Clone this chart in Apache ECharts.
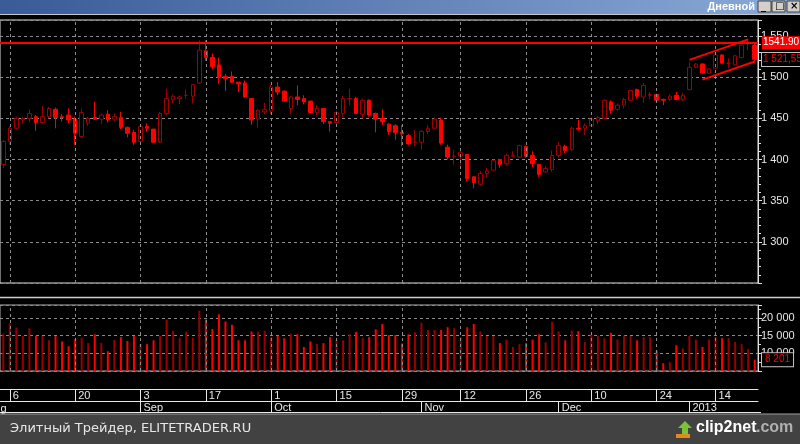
<!DOCTYPE html>
<html><head><meta charset="utf-8">
<script src="https://cdn.jsdelivr.net/npm/echarts@6/dist/echarts.min.js"></script>
<style>html,body{margin:0;padding:0;background:#000}#c{width:800px;height:444px}</style>
</head><body><div id="c"></div>
<script>
const opens  = [1394,1422,1438,1448,1450,1452,1445,1452,1461,1452,1454,1449,1428,1444,1451,1449,1455,1449,1451,1439,1433,1422,1440,1437,1421,1456,1473,1474,1478,1477,1493,1532,1524,1515,1501,1501,1494,1493,1474,1449,1458,1459,1488,1483,1462,1476,1474,1471,1457,1462,1446,1445,1456,1474,1474,1455,1472,1456,1450,1443,1441,1433,1429,1421,1421,1434,1438,1448,1415,1404,1404,1406,1379,1370,1383,1387,1400,1395,1404,1403,1416,1405,1394,1385,1388,1405,1416,1412,1438,1438,1441,1447,1450,1470,1461,1466,1472,1485,1476,1478,1479,1473,1473,1478,1473,1485,1512,1516,1505,1511,1527,1517,1515,1524,1541,1539];
const closes = [1422,1438,1450,1450,1456,1445,1452,1462,1451,1451,1448,1432,1457,1450,1449,1454,1448,1452,1439,1432,1421,1440,1438,1421,1456,1474,1477,1476,1478,1491,1533,1524,1513,1500,1498,1494,1492,1476,1448,1460,1461,1488,1482,1471,1476,1473,1470,1457,1462,1446,1444,1457,1474,1474,1456,1472,1454,1449,1446,1434,1433,1431,1419,1421,1434,1438,1449,1420,1403,1404,1409,1377,1372,1383,1386,1399,1394,1405,1405,1417,1404,1395,1382,1389,1405,1417,1411,1438,1437,1441,1449,1451,1472,1460,1466,1473,1484,1477,1490,1479,1472,1472,1477,1473,1478,1512,1516,1505,1510,1527,1517,1517,1526,1539,1541,1521.55];
const highs  = [1424,1440,1452,1452,1461,1454,1465,1464,1463,1455,1462,1452,1462,1452,1470,1456,1460,1456,1458,1440,1436,1442,1444,1437,1458,1486,1479,1478,1485,1492,1545,1545,1529,1524,1504,1507,1494,1496,1474,1461,1469,1491,1494,1484,1477,1490,1478,1471,1466,1462,1446,1459,1477,1486,1476,1474,1473,1457,1461,1444,1443,1442,1431,1436,1436,1442,1451,1451,1418,1411,1411,1406,1380,1386,1390,1400,1401,1407,1410,1418,1417,1410,1395,1392,1411,1421,1418,1440,1448,1444,1451,1453,1473,1472,1468,1475,1485,1486,1493,1482,1480,1474,1479,1482,1481,1518,1517,1517,1511,1528,1528,1523,1527,1540,1545,1541];
const lows   = [1390,1418,1436,1444,1446,1435,1443,1450,1438,1446,1444,1418,1426,1441,1448,1443,1445,1446,1437,1427,1418,1420,1434,1420,1420,1454,1468,1467,1474,1468,1492,1520,1510,1492,1483,1493,1482,1475,1442,1439,1455,1455,1478,1470,1455,1466,1467,1456,1454,1443,1434,1443,1452,1466,1455,1450,1452,1433,1442,1430,1424,1416,1418,1416,1412,1431,1437,1418,1400,1394,1393,1373,1365,1368,1378,1386,1390,1392,1403,1402,1402,1391,1379,1384,1385,1403,1408,1410,1435,1430,1440,1443,1449,1456,1459,1462,1471,1474,1469,1473,1471,1466,1471,1472,1471,1484,1511,1504,1504,1510,1516,1511,1514,1523,1533,1518];
const volumes = [15600,18500,17300,14900,17100,15000,14900,13700,14900,13400,12000,14000,14400,12900,15400,12900,10600,13800,14600,13500,14900,12600,12600,13700,15000,19600,16400,14400,16100,14400,22100,19600,16900,21100,19000,18100,13700,13700,16200,16100,16400,14600,15000,14300,15600,15400,11800,13400,12700,12900,14600,13700,13700,15400,16100,14400,14600,16800,18300,15200,15200,
 12800,15400,16000,18700,16600,16600,16600,17400,17100,14500,17400,18300,16200,14900,14900,12900,13900,11800,12600,12900,13900,15400,13100,18900,16200,13700,16400,16300,13200,15400,15000,14300,15800,13900,15000,14900,13700,14600,14600,10800,7200,7500,12300,11400,15000,13900,11800,13900,14600,14300,14300,13200,12600,11200,8201];
const categories = opens.map((_, i) => String(i));
const dayTickIdx = [1,11,21,31,41,51,61,70,80,90,100,109];
const dayTickLbl = ['6','20','3','17','1','15','29','12','26','10','24','14'];
const monthTickIdx = [21,41,64,85,105];
const monthTickLbl = ['Sep','Oct','Nov','Dec','2013'];
const resistance = 1541.90;
const lastPrice = 1521.55;
const channelUpper = [[105,1521],[114,1546]];
const channelLower = [[107,1497],[115,1519]];

const fmt = v => { const s = String(Math.round(v)); return s.replace(/\B(?=(\d{3})+(?!\d))/g, ' '); };
const RED = '#ff0000', DARK = '#a00000', GRIDC = '#8c8c8c';
const font = 'Liberation Sans';
const candleData = opens.map((o, i) => [o, closes[i], lows[i], highs[i]]);
const volData = volumes.map((v, i) => ({value: v, itemStyle: {color: closes[i] >= opens[i] ? '#9a0000' : RED}}));
const vlines = dayTickIdx.map(i => ({xAxis: i}));
const hidden = {color: 'rgba(0,0,0,0)', width: 0};

const chart = echarts.init(document.getElementById('c'), null, {renderer: 'canvas'});
chart.setOption({
  animation: false,
  backgroundColor: '#000',
  textStyle: {fontFamily: font},
  grid: [
    {left: -3, right: 42, top: 20, height: 263, show: true, borderColor: '#e0e0e0', borderWidth: 1, backgroundColor: 'transparent'},
    {left: -3, right: 42, top: 305, height: 66, show: true, borderColor: '#b0b0b0', borderWidth: 1}
  ],
  xAxis: [
    {type: 'category', data: categories, gridIndex: 0, boundaryGap: true, axisLine: {show: false}, axisTick: {show: false}, axisLabel: {show: false}, splitLine: {show: false}},
    {type: 'category', data: categories, gridIndex: 1, boundaryGap: true, position: 'bottom', offset: 18,
      axisLine: {show: true, lineStyle: {color: '#e8e8e8', width: 1}},
      axisTick: {show: true, alignWithLabel: true, length: 12, interval: i => dayTickIdx.includes(i), lineStyle: {color: '#e8e8e8'}},
      axisLabel: {show: true, interval: i => dayTickIdx.includes(i), formatter: (v, i) => dayTickLbl[dayTickIdx.indexOf(i)] || '', align: 'left', padding: [0,0,0,3], margin: 1, color: '#e8e8e8', fontSize: 11, fontFamily: font},
      splitLine: {show: false}},
    {type: 'category', data: categories, gridIndex: 1, boundaryGap: true, position: 'bottom', offset: 30,
      axisLine: {show: true, lineStyle: {color: '#e8e8e8', width: 1}},
      axisTick: {show: true, alignWithLabel: true, length: 11, interval: i => monthTickIdx.includes(i), lineStyle: {color: '#e8e8e8'}},
      axisLabel: {show: true, interval: i => monthTickIdx.includes(i), formatter: (v, i) => monthTickLbl[monthTickIdx.indexOf(i)] || '', align: 'left', padding: [0,0,0,3], margin: 1, color: '#e8e8e8', fontSize: 11, fontFamily: font},
      splitLine: {show: false}}
  ],
  yAxis: [
    {type: 'value', gridIndex: 0, position: 'right', min: 1250, max: 1569.5, interval: 50,
      axisLine: {show: true, lineStyle: {color: '#e0e0e0'}},
      axisTick: {show: true, length: 4, lineStyle: {color: '#e0e0e0'}},
      minorTick: {show: true, splitNumber: 5, length: 3, lineStyle: {color: '#e0e0e0'}},
      axisLabel: {color: '#e8e8e8', fontSize: 11, margin: 3, showMinLabel: false, showMaxLabel: false, formatter: fmt, fontFamily: font},
      splitLine: {show: true, lineStyle: {color: GRIDC, type: [3,3]}}},
    {type: 'value', gridIndex: 1, position: 'right', min: 5000, max: 23700, interval: 5000,
      axisLine: {show: true, lineStyle: {color: '#e0e0e0'}},
      axisTick: {show: true, length: 4, lineStyle: {color: '#e0e0e0'}},
      minorTick: {show: true, splitNumber: 2, length: 3, lineStyle: {color: '#e0e0e0'}},
      axisLabel: {color: '#e8e8e8', fontSize: 11, margin: 3, showMinLabel: false, showMaxLabel: false, formatter: v => v >= 10000 ? fmt(v) : '', fontFamily: font},
      splitLine: {show: true, lineStyle: {color: GRIDC, type: [3,3]}}}
  ],
  series: [
    {type: 'candlestick', xAxisIndex: 0, yAxisIndex: 0, data: candleData, barWidth: 4,
      itemStyle: {color: '#000', borderColor: DARK, color0: RED, borderColor0: RED, borderWidth: 1},
      markLine: {silent: true, symbol: 'none', animation: false,
        data: [
          ...vlines.map(d => ({...d, lineStyle: {color: GRIDC, type: [3,3], width: 1}, label: {show: false}})),
          {yAxis: resistance, lineStyle: {color: RED, width: 2, type: 'solid'},
            label: {show: true, position: 'end', distance: 4, formatter: '1541.90', color: '#fff', backgroundColor: RED, padding: [2,1,1,1], fontSize: 10, fontFamily: font}},
          {yAxis: lastPrice, lineStyle: hidden,
            label: {show: true, position: 'end', distance: 4, formatter: '1 521,55', color: RED, backgroundColor: '#000', borderColor: '#c0c0c0', borderWidth: 1, padding: [2,1,1,1], fontSize: 10, fontFamily: font}},
          [{coord: channelUpper[0]}, {coord: channelUpper[1]}].map(p => ({...p, lineStyle: {color: RED, width: 2, type: 'solid'}, label: {show: false}})),
          [{coord: channelLower[0]}, {coord: channelLower[1]}].map(p => ({...p, lineStyle: {color: RED, width: 2, type: 'solid'}, label: {show: false}}))
        ]}},
    {type: 'bar', xAxisIndex: 1, yAxisIndex: 1, data: volData, barWidth: 2,
      markLine: {silent: true, symbol: 'none', animation: false,
        data: [
          ...vlines.map(d => ({...d, lineStyle: {color: GRIDC, type: [3,3], width: 1}, label: {show: false}})),
          {yAxis: volumes[volumes.length - 1], lineStyle: hidden,
            label: {show: true, position: 'end', distance: 4, formatter: fmt(volumes[volumes.length - 1]), color: RED, backgroundColor: '#000', borderColor: '#c0c0c0', borderWidth: 1, padding: [2,3,1,3], fontSize: 10, fontFamily: font}}
        ]}}
  ],
  graphic: [
    {type: 'rect', shape: {x: 0, y: 0, width: 800, height: 14}, style: {fill: new echarts.graphic.LinearGradient(0,0,1,0,[{offset:0,color:'#3a5a98'},{offset:1,color:'#8aaad8'}])}},
    {type: 'line', shape: {x1: 0, y1: 14.5, x2: 800, y2: 14.5}, style: {stroke: '#c8c8c8', lineWidth: 1}},
    {type: 'text', x: 755, y: 1, style: {text: 'Дневной', fill: '#fff', align: 'right', font: 'bold 11px "Liberation Sans"'}},
    ...[758, 772, 787].map((x, k) => ({type: 'group', children: [
      {type: 'rect', shape: {x: x, y: 1, width: 13, height: 11}, style: {fill: '#d4d0c8', stroke: '#404040', lineWidth: 1}},
      {type: 'text', x: x + 3, y: 1, style: {text: ['_','□','×'][k], fill: '#000', font: 'bold 10px "DejaVu Sans"'}}
    ]})),
    {type: 'line', shape: {x1: 0, y1: 297.5, x2: 800, y2: 297.5}, style: {stroke: '#d0d0d0', lineWidth: 1.5}},
    {type: 'line', shape: {x1: 0, y1: 412.5, x2: 761, y2: 412.5}, style: {stroke: '#e8e8e8', lineWidth: 1}},
    {type: 'text', x: -13, y: 403, style: {text: 'Aug', fill: '#e8e8e8', font: '11px "Liberation Sans"'}},
    {type: 'rect', shape: {x: 0, y: 414, width: 800, height: 30}, style: {fill: '#424242'}},
    {type: 'line', shape: {x1: 0, y1: 414, x2: 800, y2: 414}, style: {stroke: '#a0a0a0', lineWidth: 1}},
    {type: 'text', x: 10, y: 422, style: {text: 'Элитный Трейдер, ELITETRADER.RU', fill: '#e6e6e6', font: '13px "DejaVu Sans"'}},
    {type: 'polygon', shape: {points: [[685,421],[692,428],[688,428],[688,436],[682,436],[682,428],[678,428]]}, style: {fill: '#7ac23a'}},
    {type: 'rect', shape: {x: 676, y: 434, width: 14, height: 4}, style: {fill: '#e08a20'}},
    {type: 'text', x: 696, y: 420, style: {text: 'clip2net', fill: '#ffffff', font: 'bold 16px "Liberation Sans"'}},
    {type: 'text', x: 756, y: 420, style: {text: '.com', fill: '#b0b0b0', font: 'bold 16px "Liberation Sans"'}}
  ]
});
</script></body></html>
